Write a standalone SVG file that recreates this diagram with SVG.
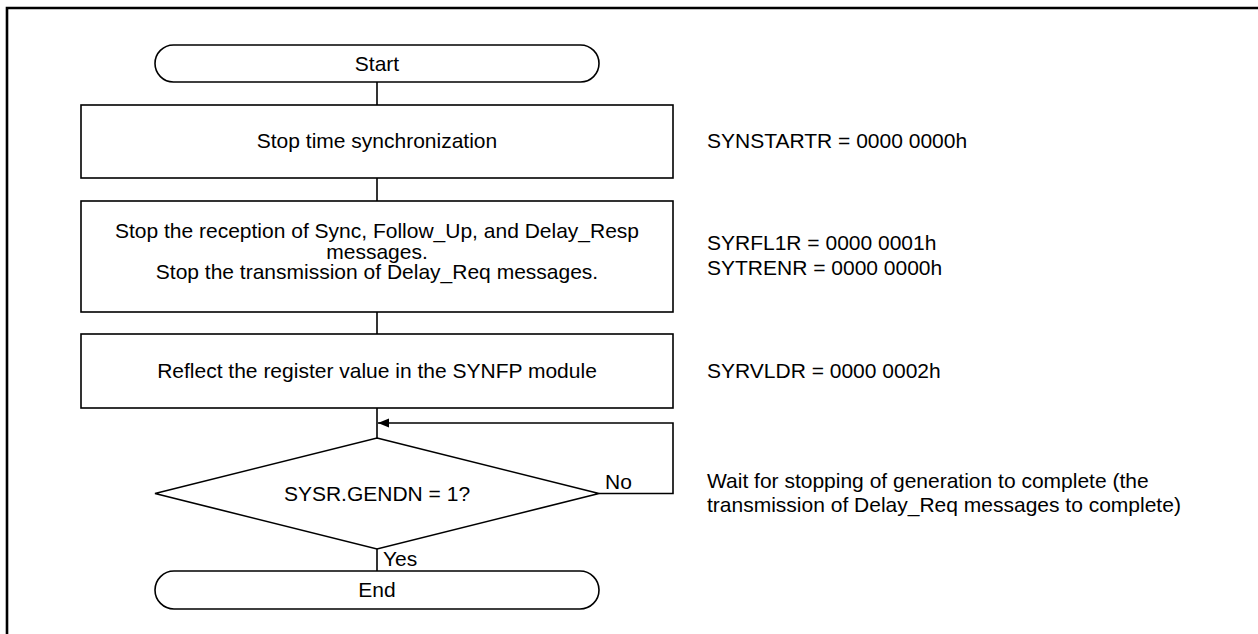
<svg xmlns="http://www.w3.org/2000/svg" width="1258" height="634" viewBox="0 0 1258 634">
<style>
.shape{fill:#fff;stroke:#000;stroke-width:1.6}
.line{fill:none;stroke:#000;stroke-width:1.6}
text{font-family:"Liberation Sans",Arial,sans-serif;font-size:21px;fill:#000}
.c{text-anchor:middle}
</style>
<defs>
<marker id="arr" markerWidth="12" markerHeight="10" refX="11" refY="4.5" orient="auto" markerUnits="userSpaceOnUse">
<path d="M0,0 L11,4.5 L0,9 Z" fill="#000"/>
</marker>
</defs>
<rect x="0" y="0" width="1258" height="634" fill="#fff"/>
<path d="M7,634 L7,8 L1258,8" fill="none" stroke="#000" stroke-width="2.6"/>
<g id="connectors">
<line class="line" x1="377" y1="82" x2="377" y2="105"/>
<line class="line" x1="377" y1="178" x2="377" y2="201"/>
<line class="line" x1="377" y1="312" x2="377" y2="334"/>
<line class="line" x1="377" y1="408" x2="377" y2="438"/>
<line class="line" x1="377" y1="549" x2="377" y2="571"/>
<path class="line" d="M599,493.5 L673,493.5 L673,423 L378,423" marker-end="url(#arr)"/>
<text x="605" y="489">No</text>
<text x="383" y="566">Yes</text>
</g>
<g id="start">
<rect class="shape" x="155" y="45" width="444" height="37" rx="18.5" ry="18.5"/>
<text class="c" x="377" y="71">Start</text>
</g>
<g id="stop-sync">
<rect class="shape" x="81" y="105" width="592" height="73"/>
<text class="c" x="377" y="148">Stop time synchronization</text>
</g>
<g id="stop-reception">
<rect class="shape" x="81" y="201" width="592" height="111"/>
<text class="c" x="377" y="238">Stop the reception of Sync, Follow_Up, and Delay_Resp</text>
<text class="c" x="377" y="258.5">messages.</text>
<text class="c" x="377" y="279">Stop the transmission of Delay_Req messages.</text>
</g>
<g id="reflect">
<rect class="shape" x="81" y="334" width="592" height="74"/>
<text class="c" x="377" y="378">Reflect the register value in the SYNFP module</text>
</g>
<g id="decision">
<polygon class="shape" points="377,438 599,493.5 377,549 155,493.5"/>
<text class="c" x="377" y="501">SYSR.GENDN = 1?</text>
</g>
<g id="end">
<rect class="shape" x="155" y="571" width="444" height="38" rx="19" ry="19"/>
<text class="c" x="377" y="597">End</text>
</g>
<g id="notes">
<text x="707" y="148">SYNSTARTR = 0000 0000h</text>
<text x="707" y="249.5">SYRFL1R = 0000 0001h</text>
<text x="707" y="274.5">SYTRENR = 0000 0000h</text>
<text x="707" y="377.5">SYRVLDR = 0000 0002h</text>
<text x="707" y="488">Wait for stopping of generation to complete (the</text>
<text x="707" y="512">transmission of Delay_Req messages to complete)</text>
</g>
</svg>
